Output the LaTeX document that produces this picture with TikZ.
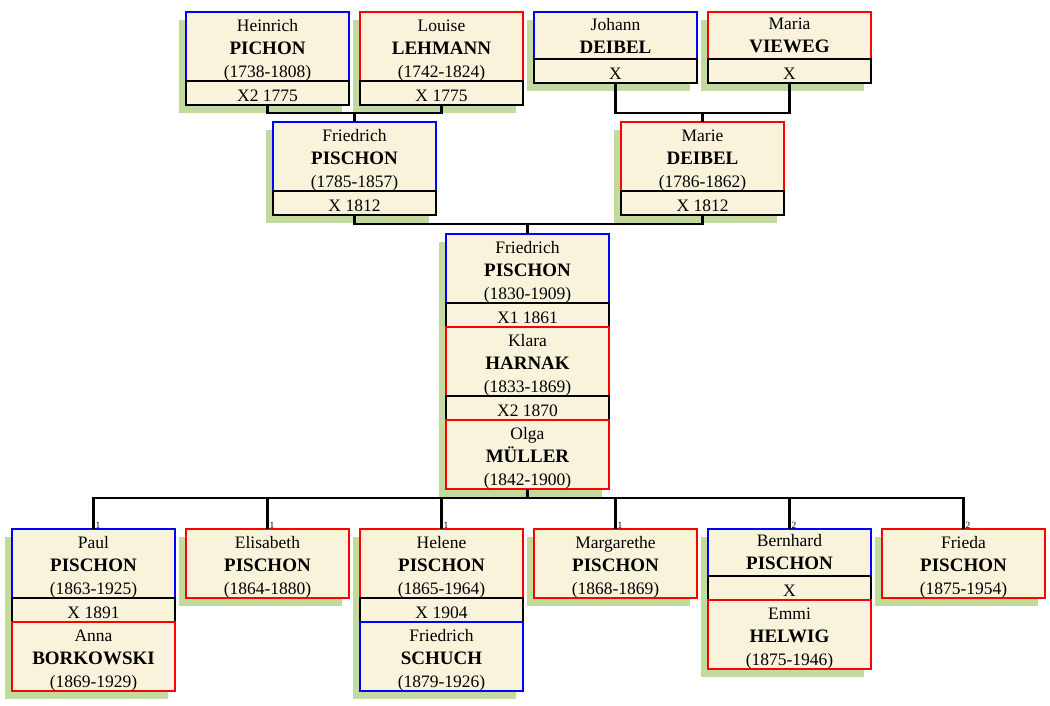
\documentclass[tikz,border=0pt]{standalone}
\usepackage{fontspec}
\setmainfont{Liberation Serif}
\usetikzlibrary{positioning,shadows}
\definecolor{cream}{RGB}{250,243,220}
\definecolor{leaf}{RGB}{195,218,158}
\tikzset{card/.style={
    fill=cream, line width=2.6pt, inner sep=0pt, outer sep=0pt,
    minimum width=163pt, align=center,
    font=\fontsize{17.5}{23}\selectfont,
    drop shadow={shadow xshift=-7pt, shadow yshift=-8pt, fill=leaf, opacity=1}
  },
  man/.style={card, draw=blue, minimum height=69pt},
  woman/.style={card, draw=red, minimum height=69pt},
  twoline/.style={minimum height=47pt},
  marr/.style={card, draw=black, minimum height=24pt, text height=16pt, text depth=0pt},
  kin/.style={line width=2.6pt},
  rank/.style={font=\fontsize{9.5}{9.5}\selectfont, inner sep=0.5pt, anchor=south west}
}
\newcommand{\nm}[1]{{\fontsize{19}{23}\selectfont\bfseries #1}}
\newcommand{\who}[3]{\rule{0pt}{19pt}#1\\\nm{#2}\\#3}

\begin{document}
\begin{tikzpicture}[x=1pt,y=-1pt]
  \useasboundingbox (0,0) rectangle (1050,705);
  % grandparents
  \node[man] (heinrich) at (267.5,46.5) {\who{Heinrich}{PICHON}{(1738-1808)}};
  \node[marr, below=0pt of heinrich] (heinrichX) {X2 1775};
  \node[woman] (louise) at (441.5,46.5) {\who{Louise}{LEHMANN}{(1742-1824)}};
  \node[marr, below=0pt of louise] (louiseX) {X 1775};
  \node[man, twoline] (johann) at (615.5,35.5) {Johann\\\nm{DEIBEL}};
  \node[marr, below=0pt of johann] (johannX) {X};
  \node[woman, twoline] (maria) at (789.5,35.5) {Maria\\\nm{VIEWEG}};
  \node[marr, below=0pt of maria] (mariaX) {X};
  % parents
  \node[man] (friedrichA) at (354.5,156.5) {\who{Friedrich}{PISCHON}{(1785-1857)}};
  \node[marr, below=0pt of friedrichA] (friedrichAX) {X 1812};
  \node[woman] (marie) at (702.5,156.5) {\who{Marie}{DEIBEL}{(1786-1862)}};
  \node[marr, below=0pt of marie] (marieX) {X 1812};
  % Friedrich and his two wives
  \node[man] (friedrich) at (527.5,268.5) {\who{Friedrich}{PISCHON}{(1830-1909)}};
  \node[marr, below=0pt of friedrich] (friedrichX1) {X1 1861};
  \node[woman, below=0pt of friedrichX1] (klara) {\who{Klara}{HARNAK}{(1833-1869)}};
  \node[marr, below=0pt of klara] (klaraX2) {X2 1870};
  \node[woman, below=0pt of klaraX2] (olga) {\who{Olga}{MÜLLER}{(1842-1900)}};
  % children
  \node[man] (paul) at (93.5,563.5) {\who{Paul}{PISCHON}{(1863-1925)}};
  \node[marr, below=0pt of paul] (paulX) {X 1891};
  \node[woman, below=0pt of paulX] (anna) {\who{Anna}{BORKOWSKI}{(1869-1929)}};
  \node[woman] (elisabeth) at (267.5,563.5) {\who{Elisabeth}{PISCHON}{(1864-1880)}};
  \node[woman] (helene) at (441.5,563.5) {\who{Helene}{PISCHON}{(1865-1964)}};
  \node[marr, below=0pt of helene] (heleneX) {X 1904};
  \node[man, below=0pt of heleneX] (schuch) {\who{Friedrich}{SCHUCH}{(1879-1926)}};
  \node[woman] (margarethe) at (615.5,563.5) {\who{Margarethe}{PISCHON}{(1868-1869)}};
  \node[man, twoline] (bernhard) at (789.5,552.5) {Bernhard\\\nm{PISCHON}};
  \node[marr, below=0pt of bernhard] (bernhardX) {X};
  \node[woman, below=0pt of bernhardX] (emmi) {\who{Emmi}{HELWIG}{(1875-1946)}};
  \node[woman] (frieda) at (963.5,563.5) {\who{Frieda}{PISCHON}{(1875-1954)}};
  % lines of descent
  \draw[kin] (heinrichX.south) -- ++(0,8) -| (louiseX.south);
  \draw[kin] (friedrichA.north) -- ++(0,-9.5);
  \draw[kin] (johannX.south) -- ++(0,30) -| (mariaX.south);
  \draw[kin] (marie.north) -- ++(0,-9.5);
  \draw[kin] (friedrichAX.south) -- ++(0,9) -| (marieX.south);
  \draw[kin] (friedrich.north) -- ++(0,-10);
  \draw[kin] (olga.south) -- ++(0,10);
  \draw[kin] (paul.north) -- ++(0,-31) -| (frieda.north);
  \foreach \kid in {elisabeth,helene,margarethe,bernhard}
    \draw[kin] (\kid.north) -- ++(0,-31);
  \foreach \kid/\n in {paul/1,elisabeth/1,helene/1,margarethe/1,bernhard/2,frieda/2}
    \node[rank] (r-\kid) at ([xshift=1.5pt]\kid.north) {\n};
\end{tikzpicture}
\end{document}
